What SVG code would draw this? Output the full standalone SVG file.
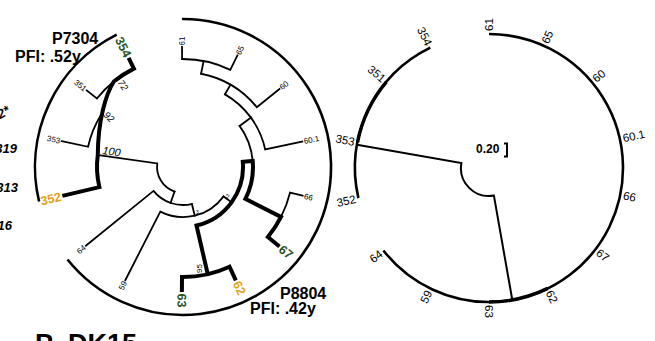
<svg xmlns="http://www.w3.org/2000/svg" width="655" height="341" viewBox="0 0 655 341">
<style>
.t{fill:none;stroke:#000;stroke-width:1.8;stroke-linecap:square}
.k{fill:none;stroke:#000;stroke-width:4;stroke-linejoin:miter;stroke-linecap:butt}
.o{fill:none;stroke:#000;stroke-width:2.6}
.r{fill:none;stroke:#000;stroke-width:2}
.rk{fill:none;stroke:#000;stroke-width:3.4}
text{font-family:"Liberation Sans",Arial,sans-serif;fill:#000}
.s{font-size:8px}
.n{font-size:9.5px;font-style:italic}
.tiny{font-size:5px}
.g{font-size:12.5px;font-weight:bold;fill:#2b5420}
.y{font-size:12.5px;font-weight:bold;fill:#e0a21a}
.big{font-size:16px;font-weight:bold}
.rl{font-size:11.5px}
.e{text-anchor:end}
.side{font-size:13px;font-weight:bold;font-style:italic}
</style>
<rect width="655" height="341" fill="#fff"/>

<g id="left-edge-labels">
<text class="side e" transform="translate(11,113) rotate(-30)">2*</text>
<text class="side e" x="17" y="153">319</text>
<text class="side e" x="18" y="192">313</text>
<text class="side e" x="12" y="230">16</text>
</g>
<g id="title-bottom"><text x="35" y="353" style="font-size:27px;font-weight:bold">P_DK15</text></g>

<g id="left-outer">
<path class="o" d="M116.7,34.7 A148 148 0 0 0 39.1,201.5"/>
<path class="o" d="M182,19 A148 148 0 1 1 67.5,259.5"/>
</g>
<g id="P7304-label"><text class="big" x="52" y="44">P7304</text><text class="big" x="15" y="62">PFI: .52y</text></g>
<g id="P8804-label"><text class="big" x="280" y="299">P8804</text><text class="big" x="250" y="314">PFI: .42y</text></g>

<g id="left-connectors">
<path class="t" d="M182.1,59 L182,47"/>
<path class="t" d="M182.1,59 A108 108 0 0 1 230.3,69.9 L237.4,55.5"/>
<path class="t" d="M201.1,73.7 L203.6,61"/>
<path class="t" d="M201.1,73.7 A95 95 0 0 1 256.8,107.2 L279.4,89"/>
<path class="t" d="M225,94.3 L230.5,84.7"/>
<path class="t" d="M225,94.3 A84 84 0 0 1 265.2,149.5 L302.3,141.6"/>
<path class="t" d="M239.6,125.9 L251,117.6"/>
<path class="t" d="M239.6,125.9 A70 70 0 0 1 252.7,160.9"/>
<path class="t" d="M302.6,195.7 L290,192.7 A110 110 0 0 1 281,216.9"/>
<path class="t" d="M223.5,196.4 L231.5,202.3"/>
<path class="t" d="M223.5,196.4 A50 50 0 0 1 160.3,211.6 L125.3,280.2"/>
<path class="t" d="M191.9,204 L194.7,215.6"/>
<path class="t" d="M191.9,204 A38 38 0 0 1 153.5,190.9 L85.9,245.7"/>
<path class="t" d="M174.5,191.6 L170.6,202.9"/>
<path class="t" d="M174.5,191.6 A26 26 0 0 1 157.3,163.4 L97.8,155"/>
<path class="t" d="M61.7,141.2 L88.1,146.8 A97 97 0 0 1 100.7,115.6"/>
<path class="t" d="M86.7,90.4 L96.9,98.5 A110 110 0 0 1 113.8,81.5"/>
<path class="k" d="M128.6,57.8 L133.9,68.6 A110 110 0 0 0 113.8,81.5 C106,94 98,120 97.8,155 A86 86 0 0 0 99.4,187.1 L62.4,195.9"/>
<path class="k" d="M279.5,246.5 L267.9,237 A110 110 0 0 0 281,216.9 L245.4,198.8 A70 70 0 0 0 252.7,160.9 L242.8,161.8 A60 60 0 0 1 196.5,225.5 L207.75,274.2"/>
<path class="k" d="M235.8,280.3 L229.5,266.7 A110 110 0 0 1 182,277 L181.9,292"/>
</g>

<g id="left-leaves">
<text class="s" transform="translate(182,45.5) rotate(-90.5)" dy=".35em">61</text>
<text class="s" transform="translate(238,54.2) rotate(-64)" dy=".35em">65</text>
<text class="s" transform="translate(280.5,88) rotate(-39)" dy=".35em">60</text>
<text class="s" transform="translate(303.8,141.3) rotate(-12)" dy=".35em">60.1</text>
<text class="s" transform="translate(304.1,196.1) rotate(13.5)" dy=".35em">66</text>
<text class="g" transform="translate(280.6,247.5) rotate(39.5)" dy=".35em">67</text>
<text class="y" transform="translate(236.5,281.6) rotate(65)" dy=".35em">62</text>
<text class="g" transform="translate(181.9,293.5) rotate(90.5)" dy=".35em">63</text>
<text class="s e" transform="translate(124.7,281.5) rotate(-63)" dy=".35em">59</text>
<text class="s e" transform="translate(84.7,246.6) rotate(-39)" dy=".35em">64</text>
<text class="y e" transform="translate(61,196.3) rotate(-13.5)" dy=".35em">352</text>
<text class="s e" transform="translate(60.2,140.9) rotate(12)" dy=".35em">353</text>
<text class="s e" transform="translate(85.6,89.5) rotate(38.5)" dy=".35em">351</text>
<text class="g e" transform="translate(127.9,56.5) rotate(63.5)" dy=".35em">354</text>
</g>
<g id="left-node-labels">
<text class="n" text-anchor="middle" transform="translate(123,85) rotate(55)" dy=".35em">72</text>
<text class="n" text-anchor="middle" transform="translate(109,117) rotate(45)" dy=".35em">92</text>
<text class="n" style="font-size:11px" transform="translate(102,154) rotate(8)">100</text>
<text class="s" transform="translate(202,273) rotate(-90)">95</text>
<text class="tiny" transform="translate(227,200) rotate(-60)">62</text>
<text class="tiny" x="196" y="214">3</text>
</g>

<g id="right-tree">
<path class="o" d="M430.3,47.6 A134 134 0 0 0 358.4,198.1"/>
<path class="rk" d="M386.4,81.9 A134 134 0 0 0 357.5,142.4"/>
<path class="o" d="M383.4,250.5 A134 134 0 1 0 489,34"/>
<path class="rk" d="M489,302 A134 134 0 0 0 547.7,288.4"/>
<path class="r" d="M357,144.7 L461.4,163.1 A28 28 0 0 0 493.9,195.6 L512.3,300"/>
<path class="r" d="M504,143.5 L507,143.5 L507,156.5 L504,156.5"/>
<text x="476" y="153" style="font-size:12px;font-weight:bold">0.20</text>
</g>
<g id="right-leaves">
<text class="rl e" transform="translate(428.9,44.9) rotate(64)" dy=".35em">354</text>
<text class="rl e" transform="translate(384.1,79.9) rotate(40)" dy=".35em">351</text>
<text class="rl e" transform="translate(354.5,141.9) rotate(11)" dy=".35em">353</text>
<text class="rl e" transform="translate(355.5,198.8) rotate(-13)" dy=".35em">352</text>
<text class="rl e" transform="translate(381,252.4) rotate(-38)" dy=".35em">64</text>
<text class="rl e" transform="translate(428.9,291.1) rotate(-64)" dy=".35em">59</text>
<text class="rl" transform="translate(489,305) rotate(90)" dy=".35em">63</text>
<text class="rl" transform="translate(549.1,291.1) rotate(64)" dy=".35em">62</text>
<text class="rl" transform="translate(597.7,251.4) rotate(37.5)" dy=".35em">67</text>
<text class="rl" transform="translate(623.2,195.3) rotate(11.5)" dy=".35em">66</text>
<text class="rl" transform="translate(622.8,138.4) rotate(-12.5)" dy=".35em">60.1</text>
<text class="rl" transform="translate(593.9,79.9) rotate(-40)" dy=".35em">60</text>
<text class="rl" transform="translate(544.7,42.9) rotate(-66)" dy=".35em">65</text>
<text class="rl" transform="translate(489,31) rotate(-90)" dy=".35em">61</text>
</g>
</svg>
